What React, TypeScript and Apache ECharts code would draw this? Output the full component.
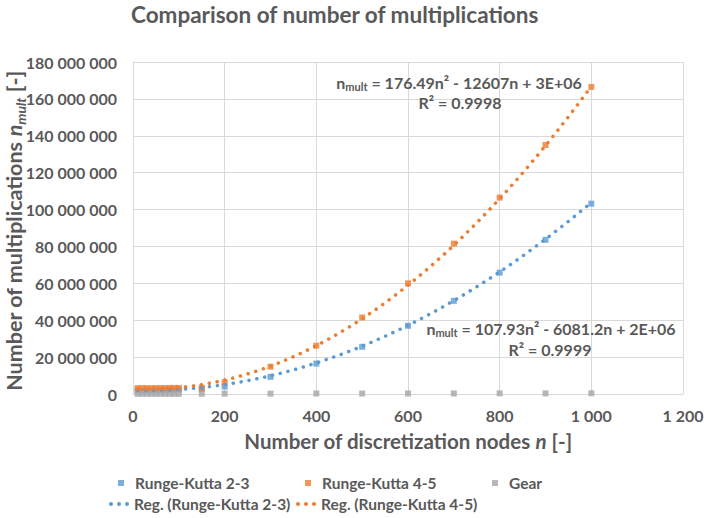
import React, { useEffect, useRef } from "react";
import * as echarts from "echarts";

const nodes = [10, 20, 30, 40, 50, 60, 70, 80, 90, 100, 150, 200, 300, 400, 500, 600, 700, 800, 900, 1000];
// values in millions of multiplications
const rk23 = [1.9, 1.9, 1.9, 1.95, 2.0, 2.05, 2.1, 2.2, 2.3, 2.4, 2.7, 4.0, 9.3, 16.5, 25.6, 37.0, 50.5, 65.8, 83.6, 103.2];
const rk45 = [3.2, 3.2, 3.2, 3.2, 3.2, 3.2, 3.2, 3.3, 3.3, 3.3, 3.4, 6.3, 14.8, 26.2, 41.5, 60.0, 81.5, 106.5, 135.0, 166.5];
const gear = [0.1, 0.1, 0.1, 0.1, 0.1, 0.1, 0.1, 0.1, 0.1, 0.1, 0.15, 0.2, 0.2, 0.25, 0.25, 0.3, 0.3, 0.35, 0.35, 0.4];

// regression coefficients shown on the chart: a*n^2 + b*n + c
const reg23 = [107.93, -6081.2, 2e6];
const reg45 = [176.49, -12607, 3e6];
const regStart = 10;
const regEnd = 1000;
const regStep = 10;

const xTicks = { min: 0, max: 1200, interval: 200 };
const yTicks = { min: 0, max: 180000000, interval: 20000000 };

const BLUE = "#5B9BD5";
const ORANGE = "#ED7D31";
const GRAY = "#A5A5A5";
const TXT = "#595959";
const FONT = "Lato, 'Open Sans', sans-serif";
const DOTS_ICON =
  "path://M0,2a2,2 0 1,0 4,0a2,2 0 1,0 -4,0zM8,2a2,2 0 1,0 4,0a2,2 0 1,0 -4,0zM16,2a2,2 0 1,0 4,0a2,2 0 1,0 -4,0z";

const fmt = (v: number) => String(Math.round(v)).replace(/\B(?=(\d{3})+(?!\d))/g, " ");

const toPairs = (ys: number[]) => nodes.map((n, i) => [n, ys[i] * 1e6]);
const regPairs = (c: number[]) => {
  const out: number[][] = [];
  for (let n = regStart; n <= regEnd; n += regStep) out.push([n, c[0] * n * n + c[1] * n + c[2]]);
  return out;
};

export default function App() {
  const ref = useRef<HTMLDivElement>(null);
  useEffect(() => {
    if (!ref.current) return;
    const chart = echarts.init(ref.current, undefined, { renderer: "svg" });
    const dotted = (color: string) => ({
      color,
      width: 3.5,
      type: [0.1, 7.9] as any,
      cap: "round" as any,
    });
    const eqRich = {
      m: { fontSize: 16, fontWeight: "bold", fill: TXT, fontFamily: FONT, lineHeight: 20 },
      s: { fontSize: 11, fontWeight: "bold", fill: TXT, fontFamily: FONT, lineHeight: 11, verticalAlign: "bottom" },
    };
    const yNameRich = {
      a: { fontSize: 21.5, fontWeight: "bold", fill: TXT, fontFamily: FONT, lineHeight: 26 },
      i: { fontSize: 21.5, fontWeight: "bold", fontStyle: "italic", fill: TXT, fontFamily: FONT, lineHeight: 26 },
      s: { fontSize: 14, fontWeight: "bold", fontStyle: "italic", fill: TXT, fontFamily: FONT, lineHeight: 14, verticalAlign: "bottom" },
    };
    const legendText = { fontSize: 15.5, fontWeight: "bold", color: TXT, fontFamily: FONT };
    chart.setOption({
      animation: false,
      title: {
        text: "Comparison of number of multiplications",
        left: 131,
        top: 3,
        padding: 0,
        textStyle: { fontSize: 22.5, fontWeight: "bold", color: TXT, fontFamily: FONT },
      },
      grid: { left: 133, right: 21, top: 62, bottom: 124, containLabel: false, outerBoundsMode: "none" },
      xAxis: {
        type: "value",
        ...xTicks,
        axisLine: { show: true, lineStyle: { color: "#D9D9D9" } },
        axisTick: { show: false },
        splitLine: { show: true, lineStyle: { color: "#D9D9D9" } },
        axisLabel: { formatter: fmt, fontSize: 16, fontWeight: "bold", color: TXT, fontFamily: FONT, margin: 13 },
        name: "{a|Number of discretization nodes }{i|n}{a| [-]}",
        nameLocation: "middle",
        nameGap: 36,
        nameTextStyle: {
          rich: {
            a: { fontSize: 20.5, fontWeight: "bold", color: TXT, fontFamily: FONT },
            i: { fontSize: 20.5, fontWeight: "bold", fontStyle: "italic", color: TXT, fontFamily: FONT },
          },
        },
      },
      yAxis: {
        type: "value",
        ...yTicks,
        axisLine: { show: true, lineStyle: { color: "#D9D9D9" } },
        axisTick: { show: false },
        splitLine: { show: true, lineStyle: { color: "#D9D9D9" } },
        axisLabel: { formatter: fmt, fontSize: 16, fontWeight: "bold", color: TXT, fontFamily: FONT, margin: 16 },
      },
      legend: [
        { padding: 0, left: 118, top: 475, itemWidth: 6, itemHeight: 6, data: ["Runge-Kutta 2-3"], textStyle: { ...legendText, padding: [0, 0, 0, 6] } },
        { padding: 0, left: 305, top: 475, itemWidth: 6, itemHeight: 6, data: ["Runge-Kutta 4-5"], textStyle: { ...legendText, padding: [0, 0, 0, 6] } },
        { padding: 0, left: 492, top: 475, itemWidth: 6, itemHeight: 6, data: ["Gear"], textStyle: { ...legendText, padding: [0, 0, 0, 6] } },
        { padding: 0, left: 109, top: 496, itemWidth: 20, itemHeight: 4, data: [{ name: "Reg. (Runge-Kutta 2-3)", icon: DOTS_ICON }], textStyle: legendText },
        { padding: 0, left: 296, top: 496, itemWidth: 20, itemHeight: 4, data: [{ name: "Reg. (Runge-Kutta 4-5)", icon: DOTS_ICON }], textStyle: legendText },
      ],
      series: [
        { name: "Runge-Kutta 2-3", type: "scatter", symbol: "rect", symbolSize: 6, itemStyle: { color: BLUE }, data: toPairs(rk23), z: 2 },
        { name: "Runge-Kutta 4-5", type: "scatter", symbol: "rect", symbolSize: 6, itemStyle: { color: ORANGE }, data: toPairs(rk45), z: 2 },
        { name: "Gear", type: "scatter", symbol: "rect", symbolSize: 6, itemStyle: { color: GRAY }, data: toPairs(gear), z: 2 },
        { name: "Reg. (Runge-Kutta 2-3)", type: "line", showSymbol: false, symbol: "none", lineStyle: dotted(BLUE), itemStyle: { color: BLUE }, data: regPairs(reg23), z: 3 },
        { name: "Reg. (Runge-Kutta 4-5)", type: "line", showSymbol: false, symbol: "none", lineStyle: dotted(ORANGE), itemStyle: { color: ORANGE }, data: regPairs(reg45), z: 3 },
      ],
      graphic: [
        {
          type: "text",
          x: 14,
          y: 231,
          rotation: Math.PI / 2,
          z: 10,
          style: {
            text: "{a|Number of multiplications }{i|n}{s|mult}{a| [-]}",
            rich: yNameRich as any,
            align: "center",
            verticalAlign: "middle",
          },
        },
        { type: "text", x: 459, y: 82, z: 10, style: { text: "{m|n}{s|mult}{m| = 176.49n² - 12607n + 3E+06}", rich: eqRich as any, align: "center", verticalAlign: "middle" } },
        { type: "text", x: 460, y: 102, z: 10, style: { text: "{m|R² = 0.9998}", rich: eqRich as any, align: "center", verticalAlign: "middle" } },
        { type: "text", x: 551, y: 328, z: 10, style: { text: "{m|n}{s|mult}{m| = 107.93n² - 6081.2n + 2E+06}", rich: eqRich as any, align: "center", verticalAlign: "middle" } },
        { type: "text", x: 550, y: 349, z: 10, style: { text: "{m|R² = 0.9999}", rich: eqRich as any, align: "center", verticalAlign: "middle" } },
      ],
    });
    return () => chart.dispose();
  }, []);
  return <div ref={ref} style={{ width: 704, height: 518, position: "absolute", left: 0, top: 0 }} />;
}
